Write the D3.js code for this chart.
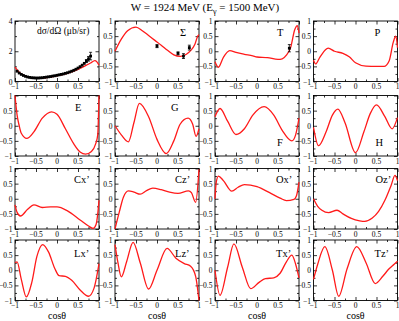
<!DOCTYPE html>
<html>
<head>
<meta charset="utf-8">
<script src="https://cdn.jsdelivr.net/npm/d3@7"></script>
<style>
  body { margin: 0; background: #fff; }
  text { font-family: "Liberation Serif", "Times New Roman", serif; fill: #000; }
</style>
</head>
<body>
<div id="chart"></div>
<script>
// Chart size
var svgWidth = 399;
var svgHeight = 321;

// ---------------- data ---------------- //
// tick values
var xTicks = [-1, -0.5, 0, 0.5, 1];
var yTicks = [-1, -0.5, 0, 0.5, 1];
var dsgTicks = [0, 2, 4];

// differential cross section, model curve [cos, value]
var dsgCurve = [[-1,0.95],[-0.9,0.62],[-0.8,0.42],[-0.7,0.3],[-0.6,0.24],[-0.5,0.21],[-0.4,0.21],
  [-0.3,0.24],[-0.2,0.28],[-0.1,0.33],[0,0.38],[0.1,0.44],[0.2,0.5],[0.3,0.58],[0.4,0.68],
  [0.5,0.8],[0.6,0.93],[0.7,1.08],[0.8,1.22],[0.9,1.38],[0.95,1.3],[1,1.08]];
// measured points [cos, value, error]
var dsgData = [[-0.95,0.68,0.05],[-0.9,0.56,0.04],[-0.85,0.47,0.04],[-0.8,0.4,0.03],[-0.75,0.34,0.03],
  [-0.7,0.3,0.03],[-0.65,0.27,0.03],[-0.6,0.25,0.03],[-0.55,0.24,0.03],[-0.5,0.23,0.03],
  [-0.45,0.23,0.03],[-0.4,0.24,0.03],[-0.35,0.25,0.03],[-0.3,0.27,0.03],[-0.25,0.29,0.03],
  [-0.2,0.31,0.03],[-0.15,0.33,0.03],[-0.1,0.36,0.03],[-0.05,0.38,0.03],[0,0.41,0.03],
  [0.05,0.44,0.03],[0.1,0.47,0.03],[0.15,0.5,0.03],[0.2,0.54,0.03],[0.25,0.58,0.04],
  [0.3,0.63,0.04],[0.35,0.68,0.04],[0.4,0.74,0.04],[0.45,0.81,0.05],[0.5,0.89,0.05],
  [0.55,0.98,0.06],[0.6,1.08,0.07],[0.65,1.2,0.08],[0.7,1.35,0.1],[0.75,1.5,0.15],[0.8,1.68,0.25]];

var sigmaCurve = [[-1,0],[-0.85,0.4],[-0.7,0.68],[-0.5,0.8],[-0.35,0.68],[-0.2,0.52],[-0.05,0.36],
  [0.1,0.2],[0.25,0.03],[0.4,-0.12],[0.55,-0.17],[0.7,-0.1],[0.8,0.02],[0.9,0.22],[0.97,0.5],[1,0.55]];
var sigmaData = [[0,0.17,0.05],[0.5,-0.07,0.05],[0.63,-0.16,0.08],[0.77,0.12,0.08]];

var tCurve = [[-1,-0.35],[-0.92,-0.53],[-0.8,-0.2],[-0.65,0.02],[-0.5,-0.04],[-0.3,-0.1],[-0.1,-0.15],
  [0,-0.19],[0.25,-0.21],[0.5,-0.27],[0.6,-0.25],[0.7,-0.13],[0.8,0.12],[0.9,0.72],[0.96,0.85],[1,0.6]];
var tData = [[0.77,0.1,0.12]];

var pCurve = [[-1,-0.3],[-0.95,-0.42],[-0.85,-0.2],[-0.65,0.1],[-0.5,0],[-0.3,-0.07],[-0.15,-0.18],
  [0,-0.38],[0.25,-0.49],[0.5,-0.5],[0.68,-0.5],[0.8,-0.32],[0.9,0.3],[0.96,0.5],[1,0.12]];

var eCurve = [[-1,1.0],[-0.95,0.35],[-0.9,0.0],[-0.85,-0.25],[-0.72,-0.42],[-0.55,-0.2],[-0.35,0.25],
  [-0.13,0.46],[0,0.38],[0.2,-0.1],[0.4,-0.6],[0.55,-0.87],[0.68,-0.94],[0.82,-0.85],[0.92,-0.6],
  [0.97,-0.3],[1,1.0]];

var gCurve = [[-1,0],[-0.85,-0.3],[-0.68,-0.53],[-0.55,0.1],[-0.42,0.74],[-0.2,0.3],[0,-0.45],
  [0.22,-0.92],[0.4,-0.5],[0.55,0.05],[0.74,0.25],[0.85,0.05],[0.93,-0.35],[1,-0.1]];

var fCurve = [[-1,0.3],[-0.88,0.57],[-0.7,0.15],[-0.5,-0.29],[-0.3,-0.1],[-0.1,0.35],[0.17,0.63],
  [0.4,0.35],[0.6,-0.15],[0.83,-0.5],[0.92,-0.3],[1,0.25]];

var hCurve = [[-1,-0.05],[-0.88,-0.66],[-0.7,-0.2],[-0.55,0.35],[-0.42,0.55],[-0.25,0.1],[0,-0.89],
  [0.2,-0.2],[0.35,0.4],[0.5,0.69],[0.7,0.3],[0.87,-0.1],[1,0.27]];

var cxCurve = [[-1,-0.2],[-0.95,-0.45],[-0.87,-0.57],[-0.7,-0.35],[-0.55,-0.2],[-0.35,-0.29],
  [-0.15,-0.27],[0,-0.27],[0.25,-0.4],[0.55,-0.7],[0.75,-0.9],[0.86,-0.98],[0.93,-0.85],
  [0.97,-0.5],[1,-0.05]];

var czCurve = [[-1,-1],[-0.9,-0.45],[-0.8,0.05],[-0.68,0.26],[-0.55,0.22],[-0.4,0.15],[-0.25,0.27],
  [-0.1,0.35],[0.1,0.3],[0.3,0.22],[0.5,0.18],[0.75,0.26],[0.82,0.2],[0.92,-0.12],[1,0.97]];

var oxCurve = [[-1,0],[-0.97,0.55],[-0.92,0.75],[-0.8,0.6],[-0.6,0.25],[-0.45,0.38],[-0.3,0.47],
  [0,0.4],[0.3,0.2],[0.55,0.02],[0.7,-0.06],[0.88,-0.02],[0.94,0.1],[1,0.55]];

var ozCurve = [[-1,0],[-0.9,-0.25],[-0.8,-0.38],[-0.64,-0.46],[-0.44,-0.38],[-0.3,-0.5],[-0.1,-0.65],
  [0.1,-0.73],[0.22,-0.75],[0.4,-0.64],[0.55,-0.42],[0.7,-0.05],[0.85,0.45],[0.94,0.77],[1,0.6]];

var lxCurve = [[-1,0.25],[-0.95,0.28],[-0.85,-0.3],[-0.73,-0.88],[-0.6,-0.4],[-0.48,0.45],[-0.34,0.85],
  [-0.2,0.6],[-0.05,0.05],[0.05,-0.18],[0.2,-0.2],[0.35,-0.33],[0.55,-0.65],[0.75,-0.86],
  [0.88,-0.6],[1,0.22]];

var lzCurve = [[-1,0.85],[-0.93,0.25],[-0.85,-0.22],[-0.72,0.3],[-0.57,0.92],[-0.4,0.25],[-0.2,-0.62],
  [0,0.0],[0.24,0.72],[0.45,0.4],[0.65,0.22],[0.8,0.13],[0.92,-0.2],[1,-1.0]];

var txCurve = [[-1,0],[-0.88,-0.83],[-0.7,0.1],[-0.55,0.87],[-0.35,0.1],[-0.15,-0.61],[0.05,-0.4],
  [0.2,-0.28],[0.4,-0.25],[0.55,-0.1],[0.7,0.28],[0.83,0.5],[0.92,0.2],[1,-0.25]];

var tzCurve = [[-1,-0.3],[-0.9,0.2],[-0.73,0.78],[-0.55,0.0],[-0.4,-0.86],[-0.2,0.05],[0.03,0.78],
  [0.25,0.25],[0.47,-0.44],[0.65,-0.2],[0.8,0.05],[0.92,0.2],[1,0.3]];

// ---------------- layout ---------------- //
var colLeft = [15, 115, 215, 313.5];
var rowTop = [21, 95.5, 168.5, 240];
var panelW = 84;
var panelH = 60.5;

// panel list: label, curve, points, label placement
var panels = [
  {label: "dσ/dΩ (μb/sr)", curve: dsgCurve, points: dsgData, dsg: true, lx: 22, ly: 13},
  {label: "Σ", curve: sigmaCurve, points: sigmaData, lx: 65, ly: 15},
  {label: "T", curve: tCurve, points: tData, lx: 62, ly: 15},
  {label: "P", curve: pCurve, lx: 61, ly: 15},
  {label: "E", curve: eCurve, lx: 60, ly: 15},
  {label: "G", curve: gCurve, lx: 56, ly: 15},
  {label: "F", curve: fCurve, lx: 62, ly: 50},
  {label: "H", curve: hCurve, lx: 62, ly: 50},
  {label: "Cx’", curve: cxCurve, lx: 59, ly: 14},
  {label: "Cz’", curve: czCurve, lx: 60, ly: 14},
  {label: "Ox’", curve: oxCurve, lx: 61, ly: 14},
  {label: "Oz’", curve: ozCurve, lx: 62, ly: 14},
  {label: "Lx’", curve: lxCurve, lx: 59, ly: 17},
  {label: "Lz’", curve: lzCurve, lx: 60, ly: 17},
  {label: "Tx’", curve: txCurve, lx: 61, ly: 17},
  {label: "Tz’", curve: tzCurve, lx: 61, ly: 17}
];

var svg = d3.select("#chart")
  .append("svg")
  .attr("width", svgWidth)
  .attr("height", svgHeight);

// title
var title = svg.append("text")
  .attr("x", 205)
  .attr("y", 10.5)
  .attr("text-anchor", "middle")
  .style("font-size", "11px");
title.append("tspan").text("W = 1924 MeV (E");
title.append("tspan").attr("dy", 3).style("font-size", "8px").text("γ");
title.append("tspan").attr("dy", -3).text(" = 1500 MeV)");

var fmt = function(d) { return d === 0 ? "0" : d3.format("")(d); };

panels.forEach(function(p, i) {
  var col = i % 4;
  var row = Math.floor(i / 4);
  var g = svg.append("g")
    .attr("transform", `translate(${colLeft[col]}, ${rowTop[row]})`);

  var x = d3.scaleLinear().domain([-1, 1]).range([0, panelW]);
  var y = d3.scaleLinear()
    .domain(p.dsg ? [0, 4] : [-1, 1])
    .range([panelH, 0]);

  var yMajor = p.dsg ? dsgTicks : yTicks;
  var yMinor = p.dsg ? [1, 3] : [-0.75, -0.25, 0.25, 0.75];
  var xMinor = [-0.75, -0.25, 0.25, 0.75];

  // inward ticks on all four sides
  var bottomAxis = d3.axisTop(x).tickValues(xTicks).tickSize(3.5).tickFormat("");
  var topAxis = d3.axisBottom(x).tickValues(xTicks).tickSize(3.5).tickFormat("");
  var leftAxis = d3.axisRight(y).tickValues(yMajor).tickSize(3.5).tickFormat("");
  var rightAxis = d3.axisLeft(y).tickValues(yMajor).tickSize(3.5).tickFormat("");
  g.append("g").attr("transform", `translate(0, ${panelH})`).call(bottomAxis);
  g.append("g").call(topAxis);
  g.append("g").call(leftAxis);
  g.append("g").attr("transform", `translate(${panelW}, 0)`).call(rightAxis);
  g.append("g").attr("transform", `translate(0, ${panelH})`)
    .call(d3.axisTop(x).tickValues(xMinor).tickSize(2).tickFormat(""));
  g.append("g").call(d3.axisBottom(x).tickValues(xMinor).tickSize(2).tickFormat(""));
  g.append("g").call(d3.axisRight(y).tickValues(yMinor).tickSize(2).tickFormat(""));
  g.append("g").attr("transform", `translate(${panelW}, 0)`)
    .call(d3.axisLeft(y).tickValues(yMinor).tickSize(2).tickFormat(""));
  g.selectAll(".domain").remove();
  g.selectAll(".tick line").attr("stroke", "#000").attr("stroke-width", 0.8);

  // frame
  g.append("rect")
    .attr("width", panelW)
    .attr("height", panelH)
    .attr("fill", "none")
    .attr("stroke", "#000")
    .attr("stroke-width", 0.9);

  // tick labels
  g.selectAll(".xlab")
    .data(xTicks)
    .enter()
    .append("text")
    .attr("x", d => x(d))
    .attr("y", panelH + 7.5)
    .attr("text-anchor", "middle")
    .style("font-size", "7.5px")
    .text(fmt);
  g.selectAll(".ylab")
    .data(yMajor)
    .enter()
    .append("text")
    .attr("x", -2.5)
    .attr("y", d => y(d) + 3)
    .attr("text-anchor", "end")
    .style("font-size", "7.5px")
    .text(fmt);

  // model curve
  var line = d3.line()
    .x(d => x(d[0]))
    .y(d => y(d[1]))
    .curve(d3.curveMonotoneX);
  g.append("path")
    .datum(p.curve)
    .attr("d", line)
    .attr("fill", "none")
    .attr("stroke", "#ff1a1a")
    .attr("stroke-width", 1.3);

  // data points with error bars
  if (p.points) {
    var pts = g.selectAll(".pt")
      .data(p.points)
      .enter()
      .append("g");
    pts.append("line")
      .attr("x1", d => x(d[0])).attr("x2", d => x(d[0]))
      .attr("y1", d => y(d[1] - d[2])).attr("y2", d => y(d[1] + d[2]))
      .attr("stroke", "#000").attr("stroke-width", 0.8);
    pts.filter(d => y(d[1] - d[2]) - y(d[1] + d[2]) > 3)
      .each(function(d) {
        var s = d3.select(this);
        [d[1] - d[2], d[1] + d[2]].forEach(function(v) {
          s.append("line")
            .attr("x1", x(d[0]) - 1.5).attr("x2", x(d[0]) + 1.5)
            .attr("y1", y(v)).attr("y2", y(v))
            .attr("stroke", "#000").attr("stroke-width", 0.8);
        });
      });
    pts.append("rect")
      .attr("x", d => x(d[0]) - 1.4)
      .attr("y", d => y(d[1]) - 1.4)
      .attr("width", 2.8)
      .attr("height", 2.8)
      .attr("fill", "#000");
  }

  // observable label
  g.append("text")
    .attr("x", p.lx)
    .attr("y", p.ly)
    .style("font-size", p.dsg ? "9.5px" : "10.5px")
    .text(p.label);

  // cos theta on the bottom row
  if (row === 3) {
    g.append("text")
      .attr("x", panelW / 2)
      .attr("y", panelH + 18)
      .attr("text-anchor", "middle")
      .style("font-size", "10px")
      .text("cosθ");
  }
});
</script>
</body>
</html>
